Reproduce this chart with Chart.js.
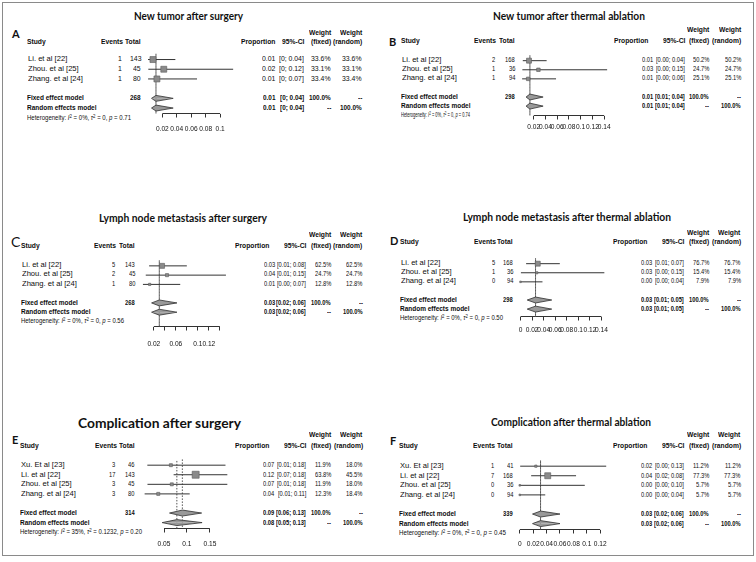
<!DOCTYPE html>
<html><head><meta charset="utf-8">
<script src="https://cdn.jsdelivr.net/npm/chart.js@4.4.1/dist/chart.umd.min.js"></script>
<style>
html,body{margin:0;padding:0;background:#fff;}
#root{position:relative;width:756px;height:562px;overflow:hidden;font-family:'Liberation Sans',Arial,sans-serif;color:#0d0d0d;}
.frame{position:absolute;left:2px;top:2px;width:750px;height:552px;border:1px solid #8a8a8a;}
.t{position:absolute;white-space:nowrap;font-size:8px;line-height:10px;}
.b{font-weight:bold;}
.title{font-family:Lato,'Open Sans',sans-serif;font-weight:700;color:#111;}
.letter{font-family:Lato,'Open Sans',sans-serif;font-weight:700;color:#111;}
.het sup{font-size:0.72em;vertical-align:0.5em;line-height:0;}
canvas{position:absolute;}
</style></head>
<body><div id="root"><div class="frame"></div></div>
<script>
// ================= DATA =================
const titles = ["New tumor after surgery", "New tumor after thermal ablation",
  "Lymph node  metastasis after surgery", "Lymph node  metastasis after thermal ablation",
  "Complication after surgery", "Complication after thermal ablation"];
const letters = ["A", "B", "C", "D", "E", "F"];
const studies3 = ["Li. et al [22]", "Zhou. et al [25]", "Zhang. et al [24]"];
const studies4 = ["Xu. Et al [23]", "Li. et al [22]", "Zhou. et al [25]", "Zhang. et al [24]"];

// A: New tumor after surgery
const eventsA = [1, 1, 1];
const totalsA = [143, 45, 80];
const propA = [0.007, 0.022, 0.0125];
const lowerA = [0.0002, 0.0006, 0.0003];
const upperA = [0.038, 0.118, 0.068];
const propTextA = ["0.01", "0.02", "0.01"];
const ciTextA = ["[0; 0.04]", "[0; 0.12]", "[0; 0.07]"];
const wFixedA = [33.6, 33.1, 33.4];
const wRandomA = [33.6, 33.1, 33.4];
const pooledEstA = [0.0112, 0.0112];
const pooledLowA = [0.005, 0.005];
const pooledHighA = [0.035, 0.035];
const pooledPropTextA = ["0.01", "0.01"];
const pooledCiTextA = ["[0; 0.04]", "[0; 0.04]"];
const totalA = 268;
const hetA = ["0%", "0", "0.71"];
const ticksA = [0.02, 0.04, 0.06, 0.08, 0.1];
const tickLabelsA = ["0.02", "0.04", "0.06", "0.08", "0.1"];

// B: New tumor after thermal ablation
const eventsB = [2, 1, 1];
const totalsB = [168, 36, 94];
const propB = [0.012, 0.028, 0.0106];
const lowerB = [0.0014, 0.0007, 0.0003];
const upperB = [0.042, 0.145, 0.058];
const propTextB = ["0.01", "0.03", "0.01"];
const ciTextB = ["[0.00; 0.04]", "[0.00; 0.15]", "[0.00; 0.06]"];
const wFixedB = [50.2, 24.7, 25.1];
const wRandomB = [50.2, 24.7, 25.1];
const pooledEstB = [0.0135, 0.0135];
const pooledLowB = [0.007, 0.007];
const pooledHighB = [0.036, 0.036];
const pooledPropTextB = ["0.01", "0.01"];
const pooledCiTextB = ["[0.01; 0.04]", "[0.01; 0.04]"];
const totalB = 298;
const hetB = ["0%", "0", "0.74"];
const ticksB = [0.02, 0.04, 0.06, 0.08, 0.1, 0.12, 0.14];
const tickLabelsB = ["0.02", "0.04", "0.06", "0.08", "0.1", "0.12", "0.14"];

// C: Lymph node metastasis after surgery
const eventsC = [5, 2, 1];
const totalsC = [143, 45, 80];
const propC = [0.035, 0.044, 0.0125];
const lowerC = [0.0115, 0.0054, 0.0003];
const upperC = [0.08, 0.151, 0.068];
const propTextC = ["0.03", "0.04", "0.01"];
const ciTextC = ["[0.01; 0.08]", "[0.01; 0.15]", "[0.00; 0.07]"];
const wFixedC = [62.5, 24.7, 12.8];
const wRandomC = [62.5, 24.7, 12.8];
const pooledEstC = [0.03, 0.03];
const pooledLowC = [0.016, 0.016];
const pooledHighC = [0.062, 0.062];
const pooledPropTextC = ["0.03", "0.03"];
const pooledCiTextC = ["[0.02; 0.06]", "[0.02; 0.06]"];
const totalC = 268;
const hetC = ["0%", "0", "0.56"];
const ticksC = [0.02, 0.04, 0.06, 0.08, 0.1, 0.12, 0.14];
const tickLabelsC = ["0.02", "", "0.06", "", "0.1", "0.12", ""];

// D: Lymph node metastasis after thermal ablation
const eventsD = [5, 1, 0];
const totalsD = [168, 36, 94];
const propD = [0.0298, 0.028, 0.0];
const lowerD = [0.0097, 0.0007, 0.0];
const upperD = [0.068, 0.145, 0.038];
const propTextD = ["0.03", "0.03", "0.00"];
const ciTextD = ["[0.01; 0.07]", "[0.00; 0.15]", "[0.00; 0.04]"];
const wFixedD = [76.7, 15.4, 7.9];
const wRandomD = [76.7, 15.4, 7.9];
const pooledEstD = [0.026, 0.026];
const pooledLowD = [0.0116, 0.0116];
const pooledHighD = [0.054, 0.054];
const pooledPropTextD = ["0.03", "0.03"];
const pooledCiTextD = ["[0.01; 0.05]", "[0.01; 0.05]"];
const totalD = 298;
const hetD = ["0%", "0", "0.50"];
const ticksD = [0, 0.02, 0.04, 0.06, 0.08, 0.1, 0.12, 0.14];
const tickLabelsD = ["0", "0.02", "0.04", "0.06", "0.08", "0.1", "0.12", "0.14"];

// E: Complication after surgery
const eventsE = [3, 17, 3, 3];
const totalsE = [46, 143, 45, 80];
const propE = [0.065, 0.119, 0.067, 0.0375];
const lowerE = [0.0137, 0.071, 0.014, 0.0078];
const upperE = [0.184, 0.188, 0.188, 0.106];
const propTextE = ["0.07", "0.12", "0.07", "0.04"];
const ciTextE = ["[0.01; 0.18]", "[0.07; 0.18]", "[0.01; 0.18]", "[0.01; 0.11]"];
const wFixedE = [11.9, 63.8, 11.9, 12.3];
const wRandomE = [18.0, 45.5, 18.0, 18.4];
const pooledEstE = [0.09, 0.078];
const pooledLowE = [0.062, 0.046];
const pooledHighE = [0.132, 0.133];
const pooledPropTextE = ["0.09", "0.08"];
const pooledCiTextE = ["[0.06; 0.13]", "[0.05; 0.13]"];
const totalE = 314;
const hetE = ["35%", "0.1232", "0.20"];
const ticksE = [0.05, 0.1, 0.15];
const tickLabelsE = ["0.05", "0.1", "0.15"];

// F: Complication after thermal ablation
const eventsF = [1, 7, 0, 0];
const totalsF = [41, 168, 36, 94];
const propF = [0.024, 0.0417, 0.0, 0.0];
const lowerF = [0.0006, 0.017, 0.0, 0.0];
const upperF = [0.129, 0.084, 0.097, 0.038];
const propTextF = ["0.02", "0.04", "0.00", "0.00"];
const ciTextF = ["[0.00; 0.13]", "[0.02; 0.08]", "[0.00; 0.10]", "[0.00; 0.04]"];
const wFixedF = [11.2, 77.3, 5.7, 5.7];
const wRandomF = [11.2, 77.3, 5.7, 5.7];
const pooledEstF = [0.031, 0.031];
const pooledLowF = [0.019, 0.019];
const pooledHighF = [0.06, 0.06];
const pooledPropTextF = ["0.03", "0.03"];
const pooledCiTextF = ["[0.02; 0.06]", "[0.02; 0.06]"];
const totalF = 339;
const hetF = ["0%", "0", "0.45"];
const ticksF = [0, 0.02, 0.04, 0.06, 0.08, 0.1, 0.12];
const tickLabelsF = ["0", "0.02", "0.04", "0.06", "0.08", "0.1", "0.12"];

// ================= BUILD =================
const panels = [
  {studies: studies3, events: eventsA, totals: totalsA, prop: propA, lower: lowerA, upper: upperA, propText: propTextA, ciText: ciTextA, wF: wFixedA, wR: wRandomA, pEst: pooledEstA, pLow: pooledLowA, pHigh: pooledHighA, pPropText: pooledPropTextA, pCiText: pooledCiTextA, total: totalA, het: hetA, ticks: ticksA, tickLabels: tickLabelsA},
  {studies: studies3, events: eventsB, totals: totalsB, prop: propB, lower: lowerB, upper: upperB, propText: propTextB, ciText: ciTextB, wF: wFixedB, wR: wRandomB, pEst: pooledEstB, pLow: pooledLowB, pHigh: pooledHighB, pPropText: pooledPropTextB, pCiText: pooledCiTextB, total: totalB, het: hetB, ticks: ticksB, tickLabels: tickLabelsB},
  {studies: studies3, events: eventsC, totals: totalsC, prop: propC, lower: lowerC, upper: upperC, propText: propTextC, ciText: ciTextC, wF: wFixedC, wR: wRandomC, pEst: pooledEstC, pLow: pooledLowC, pHigh: pooledHighC, pPropText: pooledPropTextC, pCiText: pooledCiTextC, total: totalC, het: hetC, ticks: ticksC, tickLabels: tickLabelsC},
  {studies: studies3, events: eventsD, totals: totalsD, prop: propD, lower: lowerD, upper: upperD, propText: propTextD, ciText: ciTextD, wF: wFixedD, wR: wRandomD, pEst: pooledEstD, pLow: pooledLowD, pHigh: pooledHighD, pPropText: pooledPropTextD, pCiText: pooledCiTextD, total: totalD, het: hetD, ticks: ticksD, tickLabels: tickLabelsD},
  {studies: studies4, events: eventsE, totals: totalsE, prop: propE, lower: lowerE, upper: upperE, propText: propTextE, ciText: ciTextE, wF: wFixedE, wR: wRandomE, pEst: pooledEstE, pLow: pooledLowE, pHigh: pooledHighE, pPropText: pooledPropTextE, pCiText: pooledCiTextE, total: totalE, het: hetE, ticks: ticksE, tickLabels: tickLabelsE},
  {studies: studies4, events: eventsF, totals: totalsF, prop: propF, lower: lowerF, upper: upperF, propText: propTextF, ciText: ciTextF, wF: wFixedF, wR: wRandomF, pEst: pooledEstF, pLow: pooledLowF, pHigh: pooledHighF, pPropText: pooledPropTextF, pCiText: pooledCiTextF, total: totalF, het: hetF, ticks: ticksF, tickLabels: tickLabelsF}
];

// layout (absolute pixel positions, sizes, text compression)
const layouts = [
  {titleX:188, titleY:16, titleW:109, titleSize:12, letterX:12, letterY:33.5, letterSize:11, letterW:700, h1:32.7, h2:42, y0:59, dy:9.8, axisY:113.5, labelY:128, studyX:28, evR:122, totR:141, propR:275, propHR:275, ciR:304, wfR:331, wrR:362, px0:143.9, ppu:791, hetW:104, box:6, sxN:0.86, sxP:0.8},
  {titleX:569, titleY:16, titleW:152, titleSize:12, letterX:389, letterY:41.5, letterSize:11, letterW:700, h1:29.5, h2:41, y0:60, dy:9.2, axisY:115.5, labelY:126, studyX:402, evR:495, totR:515, propR:653, propHR:648, ciR:685, wfR:709, wrR:741, px0:518.2, ppu:640, hetW:69, box:5, sxN:0.72, sxP:0.72},
  {titleX:183, titleY:217.7, titleW:168, titleSize:12, letterX:11, letterY:241.5, letterSize:14, letterW:400, h1:235, h2:246, y0:265, dy:9.4, axisY:326.5, labelY:343, studyX:22, evR:115, totR:135, propR:275, propHR:269.5, ciR:306, wfR:331, wrR:362.5, px0:139, ppu:600, hetW:103, box:5, sxN:0.72, sxP:0.72},
  {titleX:567, titleY:217.3, titleW:208, titleSize:12, letterX:390, letterY:241, letterSize:11, letterW:700, h1:232.7, h2:242, y0:263, dy:9.2, axisY:316.5, labelY:329.3, studyX:401, evR:495, totR:513, propR:652.3, propHR:647, ciR:684, wfR:709, wrR:740.7, px0:516.7, ppu:630, hetW:103, box:5, sxN:0.72, sxP:0.72},
  {titleX:159, titleY:423.3, titleW:163, titleSize:13.5, letterX:12, letterY:440, letterSize:11, letterW:700, h1:435, h2:445.7, y0:465, dy:9.6, axisY:528.5, labelY:543, studyX:21, evR:115.7, totR:134.3, propR:274.3, propHR:269.3, ciR:306, wfR:331, wrR:362.7, px0:137.3, ppu:500, hetW:122, box:7, sxN:0.72, sxP:0.72},
  {titleX:571, titleY:422.3, titleW:160, titleSize:12, letterX:390, letterY:440.7, letterSize:11, letterW:700, h1:435, h2:446, y0:466, dy:9.6, axisY:529.5, labelY:543, studyX:400, evR:494, totR:513, propR:652.3, propHR:647, ciR:684, wfR:709, wrR:740.7, px0:516, ppu:730, hetW:107, box:6, sxN:0.72, sxP:0.72}
];

const root = document.getElementById('root');

function T(x, y, s, opt) {
  opt = opt || {};
  const d = document.createElement('div');
  d.className = 't' + (opt.cls ? ' ' + opt.cls : '');
  if (opt.html) d.innerHTML = s; else d.textContent = s;
  const lh = opt.lh || 10;
  d.style.lineHeight = lh + 'px';
  if (opt.size) d.style.fontSize = opt.size + 'px';
  if (opt.weight) d.style.fontWeight = opt.weight;
  d.style.top = (y - lh / 2) + 'px';
  d.style.left = '0px';
  root.appendChild(d);
  const w = d.getBoundingClientRect().width;
  const k = opt.fitW ? opt.fitW / w : (opt.sx || 1);
  const vw = w * k;
  const align = opt.align || 'left';
  const left = align === 'left' ? x : (align === 'right' ? x - vw : x - vw / 2);
  d.style.left = left + 'px';
  if (k !== 1) { d.style.transformOrigin = '0 0'; d.style.transform = 'scaleX(' + k + ')'; }
  return d;
}

const SX_HEAD = 0.84, SX_MODEL = 0.81, SX_STUDY = 0.95;
const fmtW = v => v.toFixed(1) + '%';

function drawPanel(P, L, idx) {
  const n = P.studies.length;
  const rowY = i => L.y0 + i * L.dy;
  T(L.titleX, L.titleY, titles[idx], {cls:'title', size:L.titleSize, lh:16, align:'center', fitW:L.titleW});
  T(L.letterX, L.letterY, letters[idx], {cls:'letter', size:L.letterSize, lh:16, weight:L.letterW});
  const hl = {cls:'b', sx:SX_HEAD};
  const hr = {cls:'b', sx:SX_HEAD, align:'right'};
  T(L.studyX - 1, L.h2, 'Study', hl);
  T(L.evR + 1, L.h2, 'Events', hr);
  T(L.totR, L.h2, 'Total', hr);
  T(L.propHR, L.h2, 'Proportion', hr);
  T(L.ciR, L.h2, '95%-CI', hr);
  T(L.wfR, L.h1, 'Weight', hr);
  T(L.wfR, L.h2, '(fixed)', hr);
  T(L.wrR, L.h1, 'Weight', hr);
  T(L.wrR, L.h2, '(random)', hr);
  const rgr = {sx:L.sxN, align:'right'};
  P.studies.forEach((s, i) => {
    const y = rowY(i);
    T(L.studyX, y, s, {sx:SX_STUDY});
    T(L.evR, y, String(P.events[i]), rgr);
    T(L.totR, y, String(P.totals[i]), rgr);
    T(L.propR, y, P.propText[i], rgr);
    T(L.ciR, y, P.ciText[i], rgr);
    T(L.wfR, y, fmtW(P.wF[i]), rgr);
    T(L.wrR, y, fmtW(P.wR[i]), rgr);
  });
  const br = {cls:'b', sx:L.sxP, align:'right'};
  const ml = {cls:'b', sx:SX_MODEL};
  const yF = rowY(n + 1), yR = rowY(n + 2);
  T(L.studyX - 1, yF, 'Fixed effect model', ml);
  T(L.totR, yF, String(P.total), br);
  T(L.propR, yF, P.pPropText[0], br);
  T(L.ciR, yF, P.pCiText[0], br);
  T(L.wfR, yF, '100.0%', br);
  T(L.wrR, yF, '--', br);
  T(L.studyX - 1, yR, 'Random effects model', ml);
  T(L.propR, yR, P.pPropText[1], br);
  T(L.ciR, yR, P.pCiText[1], br);
  T(L.wfR, yR, '--', br);
  T(L.wrR, yR, '100.0%', br);
  const h = P.het;
  T(L.studyX - 1, rowY(n + 3), 'Heterogeneity: <i>I</i><sup>2</sup> = ' + h[0] + ', <i>τ</i><sup>2</sup> = ' + h[1] + ', <i>p</i> = ' + h[2],
    {html:true, cls:'het', size:6.5, fitW:L.hetW});

  // ---------- chart (plot area) ----------
  const canvas = document.createElement('canvas');
  const cL = Math.round(L.px0) - 10, cW = 112;
  const cT = Math.round(L.y0 - L.dy) - 4;
  const tl = 4;
  const pad = L.labelY - 2.9 - L.axisY - tl;
  const xh = tl + pad + 10;
  const cH = Math.ceil(L.axisY - cT + xh);
  canvas.width = cW; canvas.height = cH;
  canvas.style.left = cL + 'px'; canvas.style.top = cT + 'px';
  canvas.style.width = cW + 'px'; canvas.style.height = cH + 'px';
  root.appendChild(canvas);
  const t0 = P.ticks[0], t1 = P.ticks[P.ticks.length - 1];
  const xMin = (cL - L.px0) / L.ppu, xMax = (cL + cW - L.px0) / L.ppu;
  const padT = (L.y0 - L.dy) - cT;
  const padB = cH - xh - (L.axisY - cT);
  const yMax = (L.axisY - L.y0) / L.dy;

  const ds = [];
  const maxW = Math.max.apply(null, P.wF);
  // study boxes
  ds.push({
    data: P.prop.map((p, i) => ({x: p, y: i})), showLine: false,
    pointStyle: 'rect',
    pointRadius: P.wF.map(w => Math.max(0.8, L.box * Math.sqrt(w / maxW) / Math.SQRT2)),
    pointBackgroundColor: '#8a8a8a', pointBorderColor: '#5a5a5a', pointBorderWidth: 0.6,
    clip: false
  });
  // confidence intervals
  P.prop.forEach((p, i) => ds.push({
    data: [{x: P.lower[i], y: i}, {x: P.upper[i], y: i}], showLine: true,
    borderColor: '#333', borderWidth: 1, pointRadius: 0, fill: false, clip: false
  }));
  // pooled diamonds (upper + lower halves filled to the row line)
  const hh = 3 / L.dy;
  [0, 1].forEach(k => {
    const r = n + 1 + k;
    const lo = P.pLow[k], e = P.pEst[k], hi = P.pHigh[k];
    [-hh, hh].forEach(off => ds.push({
      data: [{x: lo, y: r}, {x: e, y: r + off}, {x: hi, y: r}], showLine: true,
      fill: {value: r}, backgroundColor: '#999', borderColor: '#2e2e2e', borderWidth: 0.8,
      pointRadius: 0, clip: false
    }));
  });
  // pooled estimate reference lines (fixed / random, dotted)
  ds.push({data: [{x: P.pEst[0], y: -0.6}, {x: P.pEst[0], y: yMax}], showLine: true, borderDash: [1.5, 1.5],
    borderColor: '#555', borderWidth: 1, pointRadius: 0, fill: false, clip: false});
  ds.push({data: [{x: P.pEst[1], y: -0.6}, {x: P.pEst[1], y: yMax}], showLine: true, borderDash: [1.5, 1.5], borderDashOffset: 1.5,
    borderColor: '#555', borderWidth: 1, pointRadius: 0, fill: false, clip: false});
  // axis line between first and last tick
  ds.push({data: [{x: t0, y: yMax}, {x: t1, y: yMax}], showLine: true,
    borderColor: '#333', borderWidth: 1, pointRadius: 0, fill: false, clip: false});

  new Chart(canvas, {
    type: 'line',
    data: {datasets: ds},
    options: {
      responsive: false, animation: false, devicePixelRatio: 1, events: [],
      layout: {padding: {left: 0, right: 0, top: padT, bottom: padB}},
      plugins: {legend: {display: false}, tooltip: {enabled: false}},
      elements: {line: {tension: 0}},
      scales: {
        x: {
          type: 'linear', position: 'bottom', min: xMin, max: xMax,
          afterBuildTicks: s => { s.ticks = P.ticks.map(v => ({value: v})); },
          afterFit: s => { s.height = xh; },
          grid: {drawOnChartArea: false, drawTicks: true, tickLength: tl, color: '#333', tickColor: '#333', lineWidth: 1},
          border: {display: false},
          ticks: {autoSkip: false, maxRotation: 0, minRotation: 0, padding: pad, color: '#111',
            font: {family: "'Liberation Sans',Arial,sans-serif", size: 6.6},
            callback: (v, i) => P.tickLabels[i]}
        },
        y: {type: 'linear', display: false, reverse: true, min: -1, max: yMax}
      }
    }
  });
}

panels.forEach((P, i) => drawPanel(P, layouts[i], i));
</script>
</body></html>
